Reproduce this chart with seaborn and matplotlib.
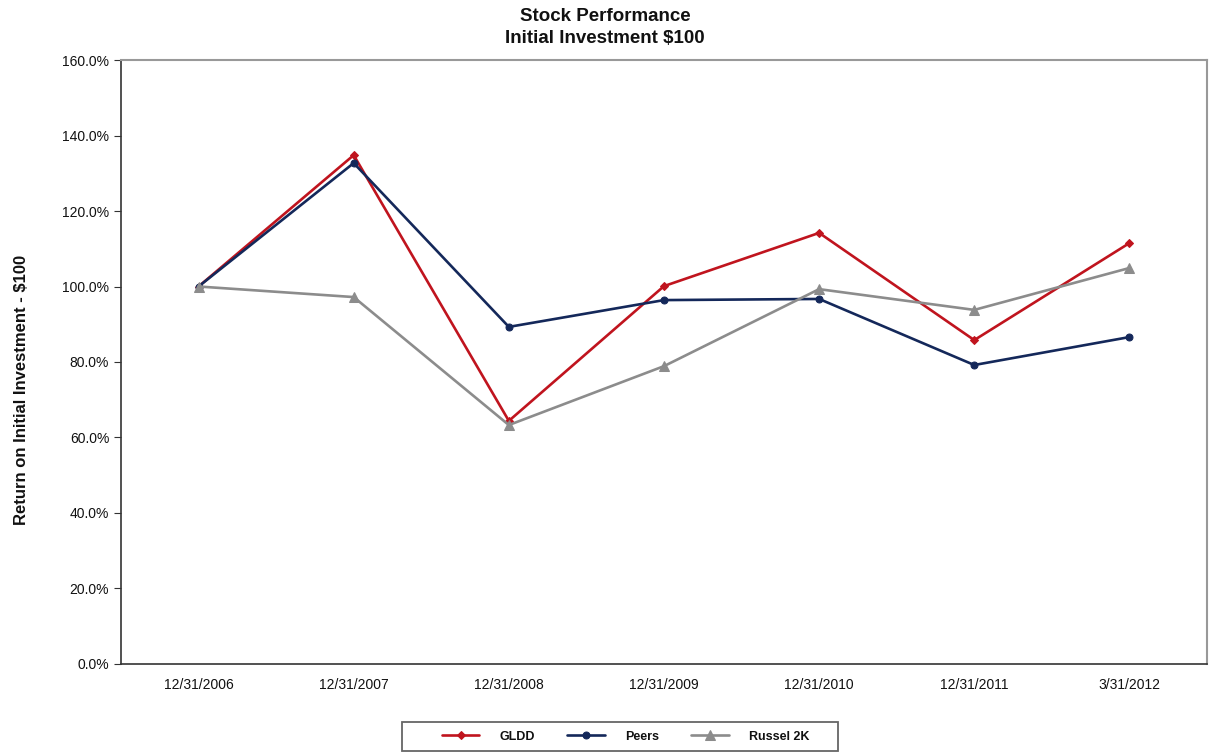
import numpy as np
import pandas as pd
import matplotlib
matplotlib.use("Agg")
import matplotlib.pyplot as plt
from matplotlib.patches import Rectangle
import seaborn as sns

dates = ["12/31/2006", "12/31/2007", "12/31/2008", "12/31/2009",
         "12/31/2010", "12/31/2011", "3/31/2012"]
gldd = [100.0, 134.8, 64.4, 100.1, 114.2, 85.8, 111.5]
peers = [100.0, 132.7, 89.3, 96.4, 96.7, 79.2, 86.6]
russel = [100.0, 97.2, 63.3, 78.9, 99.3, 93.8, 104.9]

series_names = ["GLDD", "Peers", "Russel 2K"]
colors = ["#C0141E", "#14285A", "#8C8C8C"]
markers = ["D", "o", "^"]
msizes = [4, 5, 7]

sns.set_style("white")
plt.rcParams['font.family'] = ['Liberation Sans', 'DejaVu Sans']
plt.rcParams['text.color'] = "#111111"
plt.rcParams['axes.labelcolor'] = "#111111"
plt.rcParams['xtick.color'] = "#111111"
plt.rcParams['ytick.color'] = "#111111"

df = pd.DataFrame({"date": dates * 3,
                   "value": gldd + peers + russel,
                   "series": np.repeat(series_names, len(dates))})
df["x"] = np.tile(np.arange(len(dates)), 3)

fig = plt.figure(figsize=(12.1, 7.54), dpi=100)
ax = fig.add_axes([0.1, 0.1194, 0.8975, 0.801])

for name, c, m, ms in zip(series_names, colors, markers, msizes):
    sub = df[df["series"] == name]
    sns.lineplot(data=sub, x="x", y="value", ax=ax, color=c, marker=m,
                 markersize=ms, markeredgecolor=c, linewidth=1.9, label=name,
                 legend=False)

ax.set_xlim(-0.5, len(dates) - 0.5)
ax.set_ylim(0, 160)
ax.set_yticks(np.arange(0, 161, 20))
ax.set_yticklabels([f"{v:.1f}%" for v in np.arange(0, 161, 20)], fontsize=10)
ax.set_xticks(np.arange(len(dates)))
ax.set_xticklabels(dates, fontsize=10)
ax.set_xticks(np.arange(len(dates) + 1) - 0.5, minor=True)
ax.tick_params(axis="x", which="major", length=0, pad=10)
ax.tick_params(axis="x", which="minor", length=5, direction="out", color="#333333")
ax.tick_params(axis="y", length=5, direction="out", color="#333333", left=True)
ax.set_xlabel("")
ax.set_ylabel("Return on Initial Investment - $100", fontsize=12,
              fontweight="bold",
              family=['Liberation Sans Narrow', 'Liberation Sans'])
ax.yaxis.set_label_coords(-0.085, 0.4536)

for s in ["left", "bottom"]:
    ax.spines[s].set_color("#333333")
    ax.spines[s].set_linewidth(1.2)
for s in ["top", "right"]:
    ax.spines[s].set_color("#999999")
    ax.spines[s].set_linewidth(1.5)

fig.suptitle("Stock Performance\nInitial Investment $100", fontsize=13.5,
             fontweight="bold", y=0.99, va="top", linespacing=1.45)

handles, labels = ax.get_legend_handles_labels()
leg = fig.legend(handles, labels, loc="center", bbox_to_anchor=(0.517, 0.0232),
                 ncol=3, frameon=False, handlelength=3.0, handletextpad=1.6,
                 columnspacing=2.6, prop={"weight": "bold", "size": 9})

# legend box drawn as in the original (wider than the entries)
W, H = 1210.0, 754.0
fig.patches.append(Rectangle((402 / W, 1 - 751 / H), 436 / W, 29 / H,
                             transform=fig.transFigure, fill=False,
                             edgecolor="#666666", linewidth=1.3))

fig.savefig("out.png", dpi=100)
